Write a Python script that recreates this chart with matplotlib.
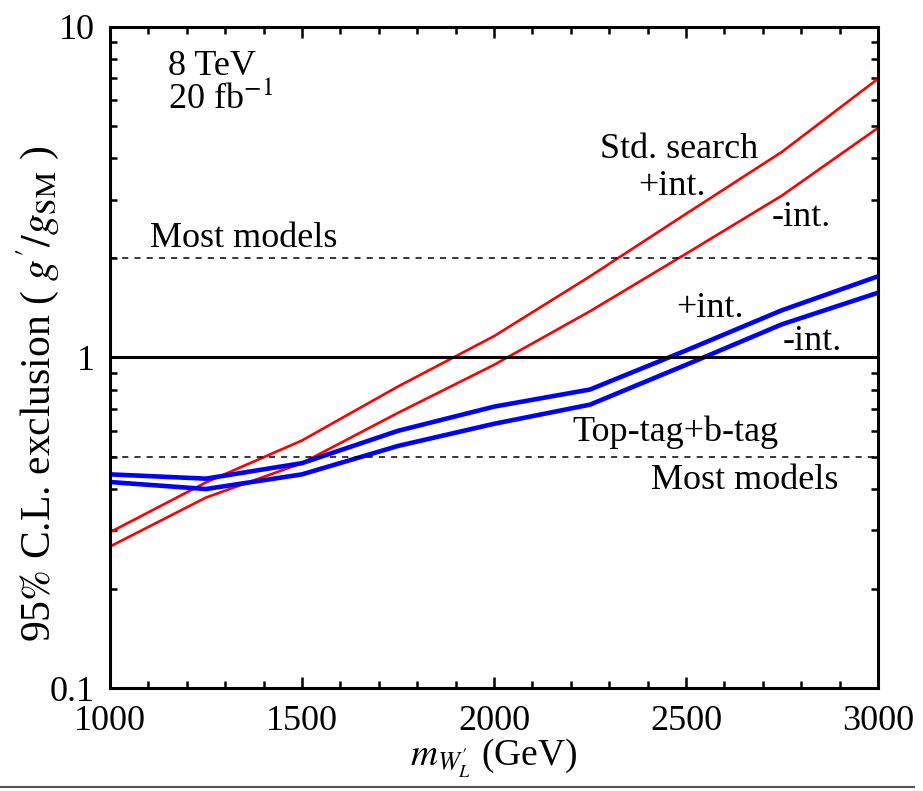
import matplotlib
matplotlib.use('Agg')
import matplotlib.pyplot as plt
from matplotlib.lines import Line2D
from matplotlib.ticker import FixedLocator, NullFormatter, MultipleLocator

plt.rcParams['font.family'] = ['Liberation Serif', 'DejaVu Serif']
plt.rcParams['mathtext.fontset'] = 'stix'

# W' mass points (GeV)
masses = [1000, 1250, 1500, 1750, 2000, 2250, 2500, 2750, 3000]

# standard search limits, red
std_plus_int = [0.296, 0.419, 0.561, 0.817, 1.16, 1.76, 2.72, 4.19, 6.97]
std_minus_int = [0.268, 0.377, 0.479, 0.68, 0.95, 1.38, 2.06, 3.09, 4.95]

# top-tag + b-tag limits, blue
tag_plus_int = [0.443, 0.43, 0.479, 0.60, 0.71, 0.80, 1.05, 1.39, 1.76]
tag_minus_int = [0.42, 0.40, 0.443, 0.54, 0.63, 0.72, 0.95, 1.26, 1.57]

most_models_hi = 2.0
most_models_lo = 0.5

fig = plt.figure(figsize=(9.23, 7.91), dpi=100)
ax = fig.add_axes([0.1192, 0.1302, 0.832, 0.8357])

ax.plot(masses, std_plus_int, color='#ff0000', lw=1.9)
ax.plot(masses, std_minus_int, color='#ff0000', lw=1.9)
ax.plot(masses, tag_plus_int, color='#0000ff', lw=3.3)
ax.plot(masses, tag_minus_int, color='#0000ff', lw=3.3)

ax.axhline(1.0, color='black', lw=2.2)
ax.axhline(most_models_hi, color='black', lw=1.1, ls=(0, (4, 4)))
ax.axhline(most_models_lo, color='black', lw=1.1, ls=(0, (4, 4)))

ax.set_xlim(1000, 3000)
ax.set_yscale('log')
ax.set_ylim(0.1, 10)

ax.xaxis.set_major_locator(MultipleLocator(500))
ax.xaxis.set_minor_locator(MultipleLocator(100))
ax.yaxis.set_major_locator(FixedLocator([0.1, 1, 10]))
ax.set_yticklabels(['0.1', '1', '10'])
minor_y = [m * d for d in (0.1, 1) for m in range(2, 10)]
ax.yaxis.set_minor_locator(FixedLocator(minor_y))
ax.yaxis.set_minor_formatter(NullFormatter())

ax.tick_params(which='both', direction='in', top=True, right=True, width=1.8)
ax.tick_params(which='major', length=8, labelsize=26)
ax.tick_params(axis='x', which='major', pad=12)
ax.tick_params(axis='y', which='major', pad=11)
ax.tick_params(which='minor', length=5)
for sp in ax.spines.values():
    sp.set_linewidth(2.2)

ax.set_xlabel(r"$m_{W^{\prime}_L}$ (GeV)", fontsize=27, labelpad=-1)
ax.set_ylabel(r"95$\%$ C.L. exclusion ( $g^{\prime}/g_{\rm SM}$ )", fontsize=30)
ax.yaxis.set_label_coords(-0.064, 0.445)

fs = 26
ax.text(1151, 7.16, '8 TeV', fontsize=fs)
ax.text(1151, 5.69, r'20 fb$^{-1}$', fontsize=fs)
ax.text(1104, 2.16, 'Most models', fontsize=fs)
ax.text(2276, 4.02, 'Std. search', fontsize=fs)
ax.text(2375, 3.11, '+int.', fontsize=fs)
ax.text(2724, 2.50, '-int.', fontsize=fs)
ax.text(2474, 1.33, '+int.', fontsize=fs)
ax.text(2753, 1.057, '-int.', fontsize=fs)
ax.text(2203, 0.557, 'Top-tag+b-tag', fontsize=fs)
ax.text(2409, 0.40, 'Most models', fontsize=fs)

fig.add_artist(Line2D([0.0, 0.99], [0.005, 0.005], color='#555555', lw=1.5))

fig.savefig('out.png', dpi=100)
